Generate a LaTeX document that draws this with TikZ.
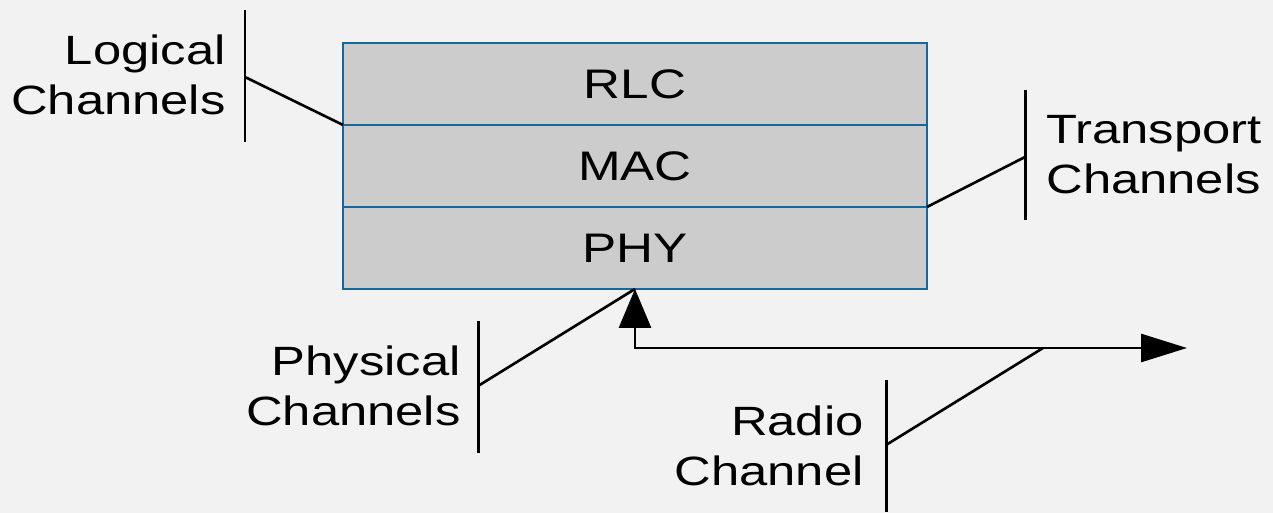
\documentclass[tikz,border=0pt]{standalone}
\usepackage{fontspec}
\setmainfont{Liberation Sans}[FakeStretch=1.24]
\usetikzlibrary{positioning,arrows.meta}

\definecolor{bgcol}{HTML}{F2F2F2}
\definecolor{layerfill}{HTML}{CCCCCC}
\definecolor{layerline}{HTML}{17679A}

\begin{document}
\begin{tikzpicture}[
  x=0.02cm, y=-0.02cm,
  layer/.style={rectangle, draw=layerline, fill=layerfill, line width=1.3pt, minimum width=11.68cm, minimum height=1.64cm, inner sep=0pt, outer sep=0pt, font=\fontsize{23.5}{28}\selectfont},
  chan/.style={align=right, inner sep=0pt, font=\fontsize{23.3}{28.5}\selectfont},
  bracket/.style={line width=1.7pt},
  link/.style={line width=1.5pt},
  radio/.style={line width=1.6pt, {Triangle[length=0.78cm, width=0.64cm]}-{Triangle[length=0.92cm, width=0.56cm]}},
]

% === Background ===
\fill[bgcol] (0,0) rectangle (1273,513);
\useasboundingbox (0,0) rectangle (1273,513);

% === Protocol stack ===
\node[layer] (rlc) at (635,84) {RLC};
\node[layer, below=0pt of rlc] (mac) {MAC};
\node[layer, below=0pt of mac] (phy) {PHY};

% === Radio channel ===
\coordinate (air) at (1187,348);
\coordinate (tap) at (1043,348);
\draw[radio] (phy.south) |- (air);

% === Logical channels (top-left) ===
\coordinate (lcb) at (245,77);
\draw[bracket] (245,10) -- (245,142);
\draw[link] (lcb) -- (rlc.south west);
\node[chan, anchor=east] (lch) at (226,75) {Logical\\Channels};

% === Transport channels (right) ===
\coordinate (tcb) at (1025,157);
\draw[bracket] (1025,90) -- (1025,220);
\draw[link] (tcb) -- (mac.south east);
\node[chan, align=left, anchor=west] (tch) at (1046,155) {Transport\\Channels};

% === Physical channels (bottom-left) ===
\coordinate (pcb) at (478,386);
\draw[bracket] (478,321) -- (478,453);
\draw[link] (pcb) -- (phy.south);
\node[chan, anchor=east] (pch) at (461,386) {Physical\\Channels};

% === Radio channel label (bottom) ===
\coordinate (rcb) at (886,445);
\draw[bracket] (886,380) -- (886,512);
\draw[link] (rcb) -- (tap);
\node[chan, anchor=east] (rch) at (864,446) {Radio\\Channel};

\end{tikzpicture}
\end{document}
